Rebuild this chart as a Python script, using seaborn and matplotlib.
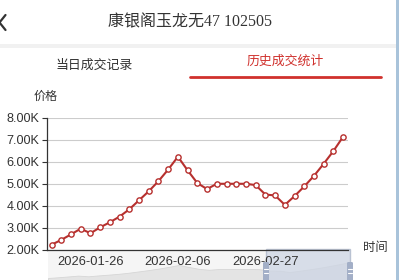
import matplotlib
matplotlib.use("Agg")
import matplotlib.pyplot as plt
import seaborn as sns
import pandas as pd
from matplotlib.patches import Rectangle, FancyBboxPatch
from matplotlib.lines import Line2D
from matplotlib.ticker import FuncFormatter

# ---------------- data ----------------
title = "康银阁玉龙无47 102505"
tab_left = "当日成交记录"
tab_right = "历史成交统计"
y_name = "价格"
x_name = "时间"
dates = ["2026-01-22", "2026-01-23", "2026-01-24", "2026-01-25", "2026-01-26",
         "2026-01-27", "2026-01-28", "2026-01-29", "2026-01-30", "2026-02-01",
         "2026-02-02", "2026-02-03", "2026-02-05", "2026-02-06", "2026-02-08",
         "2026-02-10", "2026-02-12", "2026-02-15", "2026-02-17", "2026-02-19",
         "2026-02-22", "2026-02-24", "2026-02-27", "2026-03-01", "2026-03-02",
         "2026-03-03", "2026-03-04", "2026-03-05", "2026-03-06", "2026-03-07",
         "2026-03-08"]
prices = [2240, 2460, 2710, 2970, 2760, 3030, 3260, 3520, 3850, 4260,
          4670, 5130, 5660, 6240, 5620, 5040, 4770, 5010, 5010, 5010,
          5010, 4950, 4520, 4480, 4050, 4450, 4890, 5370, 5920, 6500,
          7150]
y_ticks = [2000, 3000, 4000, 5000, 6000, 7000, 8000]
label_start, label_interval = 4, 9

df = pd.DataFrame({"date": dates, "price": prices})

# ---------------- style ----------------
sns.set_style("white")
plt.rcParams["font.family"] = ["Liberation Sans", "Noto Sans CJK SC", "DejaVu Sans"]
CJK = ["Noto Sans CJK SC", "DejaVu Sans"]

W, H = 399, 280
def fx(x):
    return x / W
def fy(y):
    return 1 - y / H

fig = plt.figure(figsize=(3.99, 2.8), dpi=100)
fig.patch.set_facecolor("white")

# ---------------- slider (dataZoom) ----------------
sax = fig.add_axes([fx(48), fy(280), (350 - 48) / W, 30 / H], zorder=0)
sax.set_facecolor("#f5f5f5")
sax.fill_between(range(len(prices)), prices, 0, color="#e4e4e4", lw=0.6,
                 edgecolor="#d6d6d6")
sax.set_xlim(0, len(prices) - 1)
sax.set_ylim(1626, 10833)
sax.set_xticks([]); sax.set_yticks([])
for s in sax.spines.values():
    s.set_visible(False)

# ---------------- main chart ----------------
ax = fig.add_axes([fx(46.7), fy(250), 301.3 / W, 132 / H], zorder=2)
ax.patch.set_alpha(0)
line_color = "#b7302e"
sns.pointplot(data=df, x="date", y="price", ax=ax, color=line_color,
              markers="o", linestyles="-", errorbar=None,
              linewidth=1.5, markersize=3.8, markeredgewidth=1.0)
for ln in ax.lines:
    ln.set_markerfacecolor("white")
    ln.set_markeredgecolor(line_color)

ax.set_xlim(-0.5, len(dates) - 0.5)
ax.set_ylim(y_ticks[0], y_ticks[-1])
ax.set_yticks(y_ticks)
ax.yaxis.set_major_formatter(FuncFormatter(lambda v, _: f"{v/1000:.2f}K"))
ax.yaxis.grid(True, color="#cccccc", lw=0.8)
ax.xaxis.grid(False)
ax.set_axisbelow(True)
ax.set_xlabel(""); ax.set_ylabel("")

label_idx = list(range(label_start, len(dates), label_interval))
ax.set_xticks([i - 0.5 for i in label_idx])
ax.set_xticklabels([""] * len(label_idx))
ax.set_xticks(label_idx, minor=True)
ax.set_xticklabels([dates[i] for i in label_idx], minor=True)
ax.tick_params(axis="x", which="major", length=3, width=0.8, color="#333333")
ax.tick_params(axis="x", which="minor", length=0, pad=4, labelsize=9.3,
               labelcolor="#333333")
ax.tick_params(axis="y", which="major", length=3.6, width=0.8, color="#333333",
               pad=1.6, labelsize=9.1, labelcolor="#333333", left=True)

for side in ["top", "right"]:
    ax.spines[side].set_visible(False)
for side in ["left", "bottom"]:
    ax.spines[side].set_color("#333333")
    ax.spines[side].set_linewidth(0.9)

# ---------------- slider window & handles ----------------
fig.patches.append(Rectangle((fx(266), fy(281)), (350 - 266) / W, 32 / H,
                             transform=fig.transFigure, facecolor="#cdd5e4",
                             alpha=0.75, edgecolor="#a9b3c7", lw=1.0, zorder=1))
for hx in (266, 350):
    fig.patches.append(FancyBboxPatch((fx(hx - 3), fy(281)), 6 / W, 19 / H,
                                      boxstyle="round,pad=0,rounding_size=0.004",
                                      transform=fig.transFigure,
                                      facecolor="#a3afc7", edgecolor="none",
                                      zorder=3))
    for yy in (268.5, 272.5):
        fig.lines.append(Line2D([fx(hx - 1.8), fx(hx + 1.8)], [fy(yy), fy(yy)],
                                transform=fig.transFigure, color="white",
                                lw=0.8, zorder=4))

# ---------------- header / tabs ----------------
fig.text(fx(190), fy(22.5), title, ha="center", va="center", fontsize=11.5,
         color="#333333", family=["Liberation Serif", "Noto Sans CJK SC"])
fig.lines.append(Line2D([fx(5.5), fx(-0.5), fx(5.5)], [fy(15), fy(22.5), fy(30)],
                        transform=fig.transFigure, color="#333333", lw=1.6))
fig.patches.append(Rectangle((0, fy(47.5)), fx(396), 3.5 / H,
                             transform=fig.transFigure, facecolor="#f1f1f1",
                             edgecolor="none"))
fig.text(fx(94), fy(65), tab_left, ha="center", va="center", fontsize=9.3,
         color="#333333", family=CJK)
fig.text(fx(285), fy(61.5), tab_right, ha="center", va="center", fontsize=9.3,
         color="#d0312d", family=CJK)
fig.lines.append(Line2D([fx(190), fx(381)], [fy(76.8), fy(76.8)],
                        transform=fig.transFigure, color="#d0312d", lw=2.0))

fig.text(fx(46), fy(96), y_name, ha="center", va="center", fontsize=8.7,
         color="#333333", family=CJK)
fig.text(fx(375.5), fy(248), x_name, ha="center", va="center", fontsize=8.9,
         color="#333333", family=CJK)

# right desktop strip
fig.patches.append(Rectangle((fx(396), 0), 3 / W, 1, transform=fig.transFigure,
                             facecolor="#a9c3da", edgecolor="none"))

fig.savefig("out.png", dpi=100)
